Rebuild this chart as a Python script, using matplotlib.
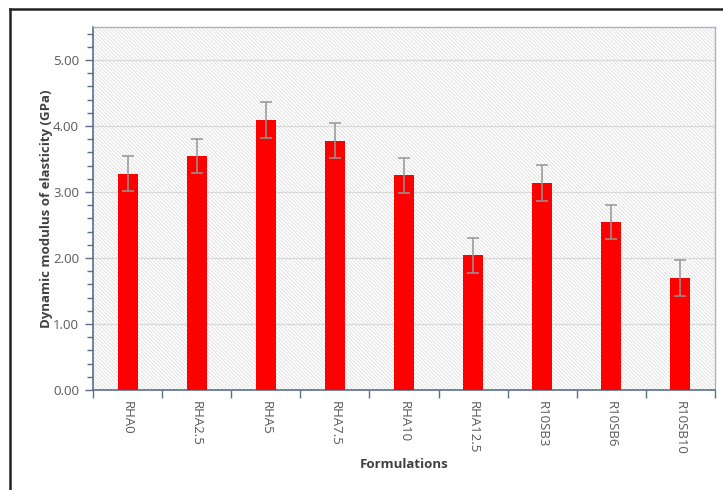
import matplotlib
matplotlib.use("Agg")
import matplotlib.pyplot as plt
from matplotlib.lines import Line2D
from matplotlib.ticker import MultipleLocator, FixedLocator
import numpy as np

formulations = ["RHA0", "RHA2.5", "RHA5", "RHA7.5", "RHA10", "RHA12.5",
                "R10SB3", "R10SB6", "R10SB10"]
modulus_gpa = [3.28, 3.55, 4.09, 3.78, 3.25, 2.04, 3.14, 2.55, 1.70]
std_gpa = [0.27, 0.26, 0.27, 0.26, 0.27, 0.27, 0.27, 0.26, 0.27]

plt.rcParams["font.family"] = ["Open Sans", "DejaVu Sans"]
plt.rcParams["hatch.linewidth"] = 0.5
plt.rcParams["hatch.color"] = "#d6d6d6"

fig = plt.figure(figsize=(7.23, 4.90), dpi=100)
ax = fig.add_axes([93 / 723, 1 - 390 / 490, 622 / 723, 363 / 490])

# hatched plot background
ax.set_facecolor("white")
ax.patch.set_hatch("\\" * 9)
ax.patch.set_edgecolor("#d6d6d6")
ax.patch.set_linewidth(0)

x = np.arange(len(formulations))
ax.bar(x, modulus_gpa, width=0.29, color="#ff0000", zorder=3)
ax.errorbar(x, modulus_gpa, yerr=std_gpa, fmt="none", ecolor="#959595",
            elinewidth=1.1, capsize=4, capthick=1.1, zorder=4)

ax.set_xlim(-0.5, len(formulations) - 0.5)
ax.set_ylim(0, 5.5)
ax.yaxis.set_major_locator(FixedLocator([0, 1, 2, 3, 4, 5]))
ax.yaxis.set_minor_locator(MultipleLocator(0.2))
ax.set_yticklabels([f"{v:.2f}" for v in [0, 1, 2, 3, 4, 5]])
ax.grid(axis="y", which="major", color="#d9d9d9", linewidth=0.9, zorder=1)
ax.set_axisbelow(True)

ax.set_xticks(x)
ax.set_xticklabels(formulations, rotation=270, va="top", ha="center")
ax.xaxis.set_minor_locator(FixedLocator(np.arange(-0.5, len(formulations), 1.0)))
ax.tick_params(axis="x", which="major", length=0, pad=8, labelsize=9.5,
               labelcolor="#595959")
ax.tick_params(axis="x", which="minor", length=6, width=1, color="#5a6f8a",
               direction="out")
ax.tick_params(axis="y", which="major", length=6, width=1, color="#5a6f8a",
               labelsize=9.5, labelcolor="#595959", pad=4)
ax.tick_params(axis="y", which="minor", length=4, width=1, color="#5a6f8a")

for side in ("left", "bottom"):
    ax.spines[side].set_color("#5a6f8a")
    ax.spines[side].set_linewidth(1.2)
for side in ("top", "right"):
    ax.spines[side].set_color("#aab4c0")
    ax.spines[side].set_linewidth(1.0)

ax.set_ylabel("Dynamic modulus of elasticity (GPa)", fontsize=9.5,
              fontweight="bold", color="#404040", labelpad=0)
ax.set_xlabel("Formulations", fontsize=9.5, fontweight="bold",
              color="#404040", labelpad=2)

# outer chart frame
fig.add_artist(Line2D([10 / 723, 1.01], [1 - 9 / 490, 1 - 9 / 490],
                      color="#222222", linewidth=1.8, transform=fig.transFigure))
fig.add_artist(Line2D([10 / 723, 10 / 723], [1 - 9 / 490, -0.01],
                      color="#222222", linewidth=1.8, transform=fig.transFigure))

fig.savefig("out.png", dpi=100)
